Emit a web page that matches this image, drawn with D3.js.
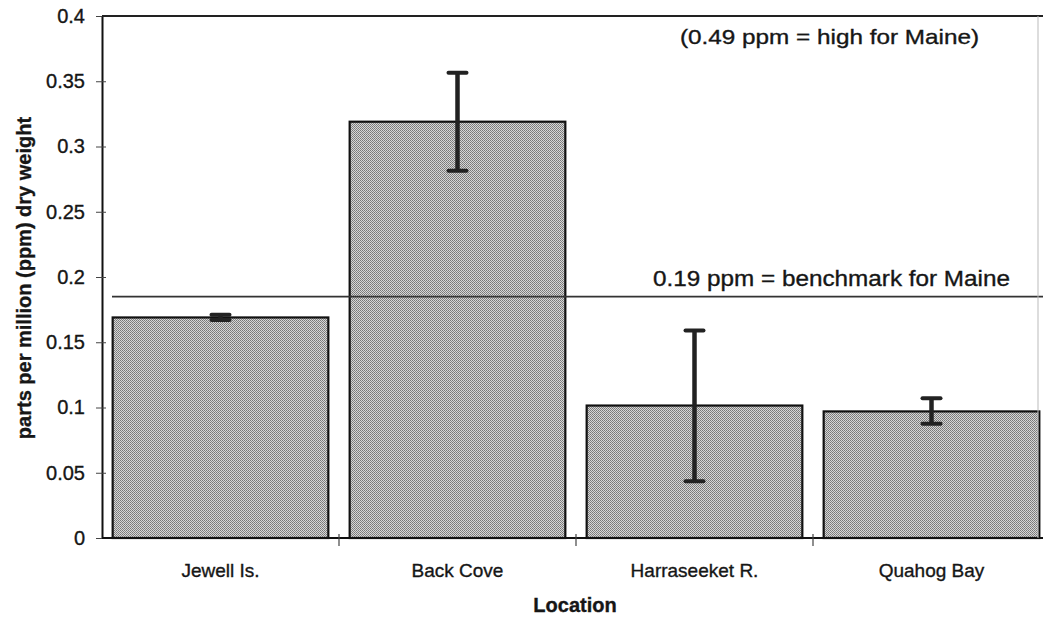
<!DOCTYPE html>
<html>
<head>
<meta charset="utf-8">
<script src="https://cdn.jsdelivr.net/npm/d3@7"></script>
<style>
  body { margin: 0; background: #fff; }
  text { font-family: "Liberation Sans", Arial, sans-serif; fill: #161616; stroke: #161616; stroke-width: 0.35px; }
</style>
</head>
<body>
<div id="chart"></div>
<script>
// data
var locations = ["Jewell Is.", "Back Cove", "Harraseeket R.", "Quahog Bay"];
var means = [0.169, 0.319, 0.1015, 0.097];
var errLow = [0.167, 0.2815, 0.0435, 0.0875];
var errHigh = [0.171, 0.3565, 0.159, 0.107];
var yTicks = [0, 0.05, 0.1, 0.15, 0.2, 0.25, 0.3, 0.35, 0.4];
var benchmark = 0.185;

var svgWidth = 1043;
var svgHeight = 620;

var margin = { top: 16, right: -7, bottom: 82, left: 102 };
var width = svgWidth - margin.left - margin.right;
var height = svgHeight - margin.top - margin.bottom;

var svg = d3.select("#chart")
    .append("svg")
    .attr("width", svgWidth)
    .attr("height", svgHeight);

// halftone fill like the scanned bars
var defs = svg.append("defs");
var pat = defs.append("pattern")
    .attr("id", "dots")
    .attr("patternUnits", "userSpaceOnUse")
    .attr("width", 2)
    .attr("height", 2);
pat.append("rect").attr("width", 2).attr("height", 2).attr("fill", "#d6d6d6");
pat.append("rect").attr("width", 1).attr("height", 1).attr("fill", "#777");
pat.append("rect").attr("x", 1).attr("y", 1).attr("width", 1).attr("height", 1).attr("fill", "#858585");

var chartGroup = svg.append("g")
    .attr("transform", `translate(${margin.left}, ${margin.top})`);

var xScale = d3.scaleBand()
    .domain(locations)
    .range([0, width])
    .paddingInner(0.09)
    .paddingOuter(0.045);

var yScale = d3.scaleLinear()
    .domain([0, 0.4])
    .range([height, 0]);

// bars
chartGroup.selectAll(".bar")
    .data(locations)
    .enter()
    .append("rect")
    .attr("class", "bar")
    .attr("x", d => xScale(d))
    .attr("y", (d, i) => yScale(means[i]))
    .attr("width", xScale.bandwidth())
    .attr("height", (d, i) => height - yScale(means[i]))
    .attr("fill", "url(#dots)")
    .attr("stroke", "#111")
    .attr("stroke-width", 2.2);

// benchmark line
chartGroup.append("line")
    .attr("x1", 10)
    .attr("x2", width)
    .attr("y1", yScale(benchmark))
    .attr("y2", yScale(benchmark))
    .attr("stroke", "#333")
    .attr("stroke-width", 1.6);

// error bars
var errGroup = chartGroup.append("g");
locations.forEach(function (d, i) {
    var cx = xScale(d) + xScale.bandwidth() / 2;
    errGroup.append("line")
        .attr("x1", cx).attr("x2", cx)
        .attr("y1", yScale(errLow[i])).attr("y2", yScale(errHigh[i]))
        .attr("stroke", "#222").attr("stroke-width", 4.5);
    [errLow[i], errHigh[i]].forEach(function (v) {
        errGroup.append("line")
            .attr("x1", cx - 9).attr("x2", cx + 9)
            .attr("y1", yScale(v)).attr("y2", yScale(v))
            .attr("stroke", "#222").attr("stroke-width", 4)
            .attr("stroke-linecap", "round");
    });
});

// y axis
var leftAxis = d3.axisLeft(yScale)
    .tickValues(yTicks)
    .tickFormat(d => d === 0 ? "0" : String(+d.toFixed(2)))
    .tickSizeInner(6)
    .tickSizeOuter(0)
    .tickPadding(11);

var yAxis = chartGroup.append("g").call(leftAxis);
yAxis.select(".domain").attr("stroke", "#111").attr("stroke-width", 2);
yAxis.selectAll(".tick line").attr("x2", 4).attr("x1", -6).attr("stroke", "#444");
yAxis.selectAll(".tick text")
    .attr("font-size", "20px")
    .attr("fill", "#161616")
    .attr("font-family", "Liberation Sans, Arial, sans-serif");

// x axis (ticks at category boundaries)
chartGroup.append("line")
    .attr("x1", 0).attr("x2", width)
    .attr("y1", height).attr("y2", height)
    .attr("stroke", "#111").attr("stroke-width", 2);

var step = xScale.step();
var bounds = locations.map(d => xScale(d) - step * xScale.paddingInner() / 2);
chartGroup.selectAll(".xtick")
    .data(bounds.slice(1))
    .enter()
    .append("line")
    .attr("x1", d => d).attr("x2", d => d)
    .attr("y1", height - 4).attr("y2", height + 8)
    .attr("stroke", "#444").attr("stroke-width", 1.2);

chartGroup.selectAll(".xlabel")
    .data(locations)
    .enter()
    .append("text")
    .attr("x", d => xScale(d) + xScale.bandwidth() / 2)
    .attr("y", height + 39)
    .attr("text-anchor", "middle")
    .attr("font-size", "19px")
    .text(d => d);

// top frame line and faint right edge
chartGroup.append("line")
    .attr("x1", 0).attr("x2", width)
    .attr("y1", 0).attr("y2", 0)
    .attr("stroke", "#222").attr("stroke-width", 2);
chartGroup.append("line")
    .attr("x1", 936).attr("x2", 936)
    .attr("y1", 0).attr("y2", height)
    .attr("stroke", "#bbb").attr("stroke-width", 1);

// annotations
chartGroup.append("text")
    .attr("x", 578)
    .attr("y", 28)
    .attr("font-size", "21px")
    .attr("textLength", 299)
    .attr("lengthAdjust", "spacingAndGlyphs")
    .text("(0.49 ppm = high for Maine)");

chartGroup.append("text")
    .attr("x", 551)
    .attr("y", yScale(benchmark) - 11)
    .attr("font-size", "22px")
    .attr("textLength", 357)
    .attr("lengthAdjust", "spacingAndGlyphs")
    .text("0.19 ppm = benchmark for Maine");

// axis titles
svg.append("text")
    .attr("transform", "rotate(-90)")
    .attr("x", -278)
    .attr("y", 31)
    .attr("text-anchor", "middle")
    .attr("font-size", "20px")
    .style("font-weight", "bold")
    .text("parts per million (ppm) dry weight");

svg.append("text")
    .attr("x", 575)
    .attr("y", 612)
    .attr("text-anchor", "middle")
    .attr("font-size", "20px")
    .style("font-weight", "bold")
    .text("Location");
</script>
</body>
</html>
